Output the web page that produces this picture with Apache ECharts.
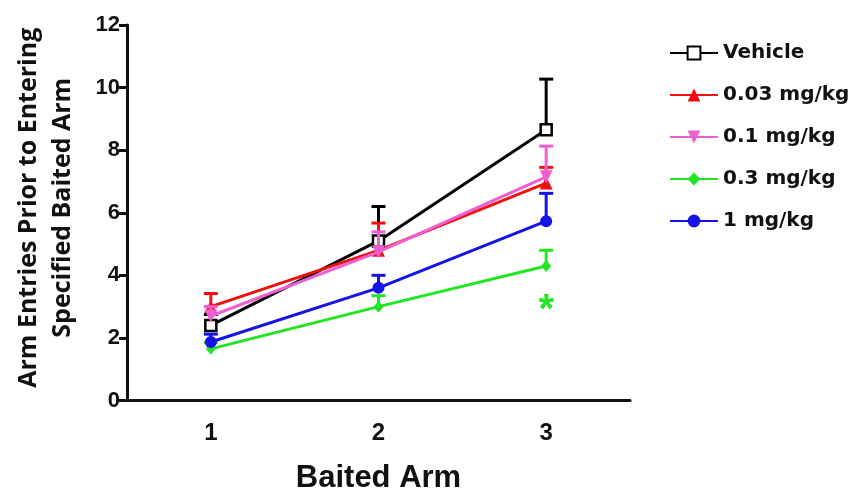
<!DOCTYPE html>
<html>
<head>
<meta charset="utf-8">
<script src="https://cdn.jsdelivr.net/npm/echarts@6/dist/echarts.min.js"></script>
<style>html,body{margin:0;padding:0;background:#fff;}#c{width:853px;height:488px;}</style>
</head>
<body>
<div id="c"></div>
<script>
var categories = ['1', '2', '3'];
var seriesNames = ['Vehicle', '0.03 mg/kg', '0.1 mg/kg', '0.3 mg/kg', '1 mg/kg'];
var vehicle = [2.4, 5.1, 8.65];
var vehicleErr = [0.35, 1.1, 1.62];
var dose003 = [3.0, 4.8, 6.95];
var dose003Err = [0.42, 0.87, 0.5];
var dose01 = [2.7, 4.75, 7.15];
var dose01Err = [0.3, 0.64, 0.98];
var dose03 = [1.65, 3.0, 4.3];
var dose03Err = [0.2, 0.35, 0.5];
var dose1 = [1.87, 3.6, 5.73];
var dose1Err = [0.25, 0.4, 0.89];
var yTicks = [0, 2, 4, 6, 8, 10, 12];
var sigIndex = 2, sigValue = 3.15, sigText = '*';

var means = [vehicle, dose003, dose01, dose03, dose1];
var errs = [vehicleErr, dose003Err, dose01Err, dose03Err, dose1Err];
var colors = ['#000000', '#f01010', '#ee5fd0', '#22e622', '#1414e6'];
var symbols = ['rect', 'triangle', 'path://M0,0 L10,0 L5,10 Z', 'diamond', 'circle'];
var symSizes = [11, 13, 13, [10, 12], 12];
var zs = [2, 3, 6, 4, 5];

var series = [];
means.forEach(function (m, i) {
  var errData = m.map(function (v, k) { return [k, v, v + errs[i][k]]; });
  series.push({
    name: seriesNames[i] + ' err',
    type: 'custom',
    z: zs[i],
    silent: true,
    data: errData,
    renderItem: function (params, api) {
      var p0 = api.coord([api.value(0), api.value(1)]);
      var p1 = api.coord([api.value(0), api.value(2)]);
      var half = 7;
      return {
        type: 'group',
        children: [
          { type: 'line', shape: { x1: p0[0], y1: p0[1], x2: p1[0], y2: p1[1] }, style: { stroke: colors[i], lineWidth: 3 } },
          { type: 'line', shape: { x1: p1[0] - half, y1: p1[1], x2: p1[0] + half, y2: p1[1] }, style: { stroke: colors[i], lineWidth: 3 } }
        ]
      };
    }
  });
  series.push({
    name: seriesNames[i],
    type: 'line',
    z: zs[i],
    data: m,
    symbol: symbols[i],
    symbolSize: symSizes[i],
    showAllSymbol: true,
    lineStyle: { color: colors[i], width: 3 },
    itemStyle: i === 0 ? { color: '#ffffff', borderColor: '#000', borderWidth: 2.5 } : { color: colors[i], borderWidth: 0 },
    emphasis: { disabled: true },
    animation: false
  });
});
series.push({
  name: 'sig',
  type: 'custom',
  silent: true,
  z: 7,
  data: [[sigIndex, sigValue]],
  renderItem: function (params, api) {
    var p = api.coord([api.value(0), api.value(1)]);
    return {
      type: 'text',
      x: p[0], y: p[1] + 9,
      style: { text: sigText, fill: '#22e622', font: 'bold 40px "Liberation Sans"', align: 'center', verticalAlign: 'middle' }
    };
  }
});

var chart = echarts.init(document.getElementById('c'), null, { renderer: 'canvas' });
chart.setOption({
  animation: false,
  backgroundColor: '#ffffff',
  grid: { left: 127, right: 223, top: 25, bottom: 87.5, containLabel: false, outerBoundsMode: 'none' },
  legend: {
    data: seriesNames,
    orient: 'vertical',
    left: 664,
    top: 38,
    itemWidth: 48,
    itemHeight: 16,
    itemGap: 22,
    selectedMode: false,
    textStyle: { fontFamily: 'DejaVu Sans', fontWeight: 'bold', fontSize: 20, color: '#111' }
  },
  xAxis: {
    type: 'category',
    data: categories,
    boundaryGap: true,
    name: 'Baited Arm',
    nameLocation: 'middle',
    nameGap: 62,
    nameTextStyle: { fontFamily: 'Liberation Sans', fontWeight: 'bold', fontSize: 31, color: '#111' },
    axisLine: { lineStyle: { color: '#111', width: 3 } },
    axisTick: { alignWithLabel: true, length: 8, lineStyle: { color: '#111', width: 3 } },
    axisLabel: { fontFamily: 'Liberation Sans', fontWeight: 'bold', fontSize: 24, color: '#111', margin: 21 },
    splitLine: { show: false }
  },
  yAxis: {
    type: 'value',
    min: 0, max: 12, interval: 2,
    name: 'Arm Entries Prior to Entering\nSpecified Baited Arm',
    nameLocation: 'middle',
    nameRotate: 90,
    nameGap: 47,
    nameTextStyle: { fontFamily: 'Open Sans', fontWeight: 'bold', fontSize: 25, color: '#111', lineHeight: 34, padding: [0, 0, 0, 10] },
    axisLine: { show: true, lineStyle: { color: '#111', width: 3 } },
    axisTick: { show: true, length: 8, lineStyle: { color: '#111', width: 3 } },
    axisLabel: { fontFamily: 'Liberation Sans', fontWeight: 'bold', fontSize: 22, color: '#111', margin: 7,
      formatter: function (v) { return yTicks.indexOf(v) >= 0 ? String(v) : ''; } },
    splitLine: { show: false }
  },
  series: series
});
</script>
</body>
</html>
